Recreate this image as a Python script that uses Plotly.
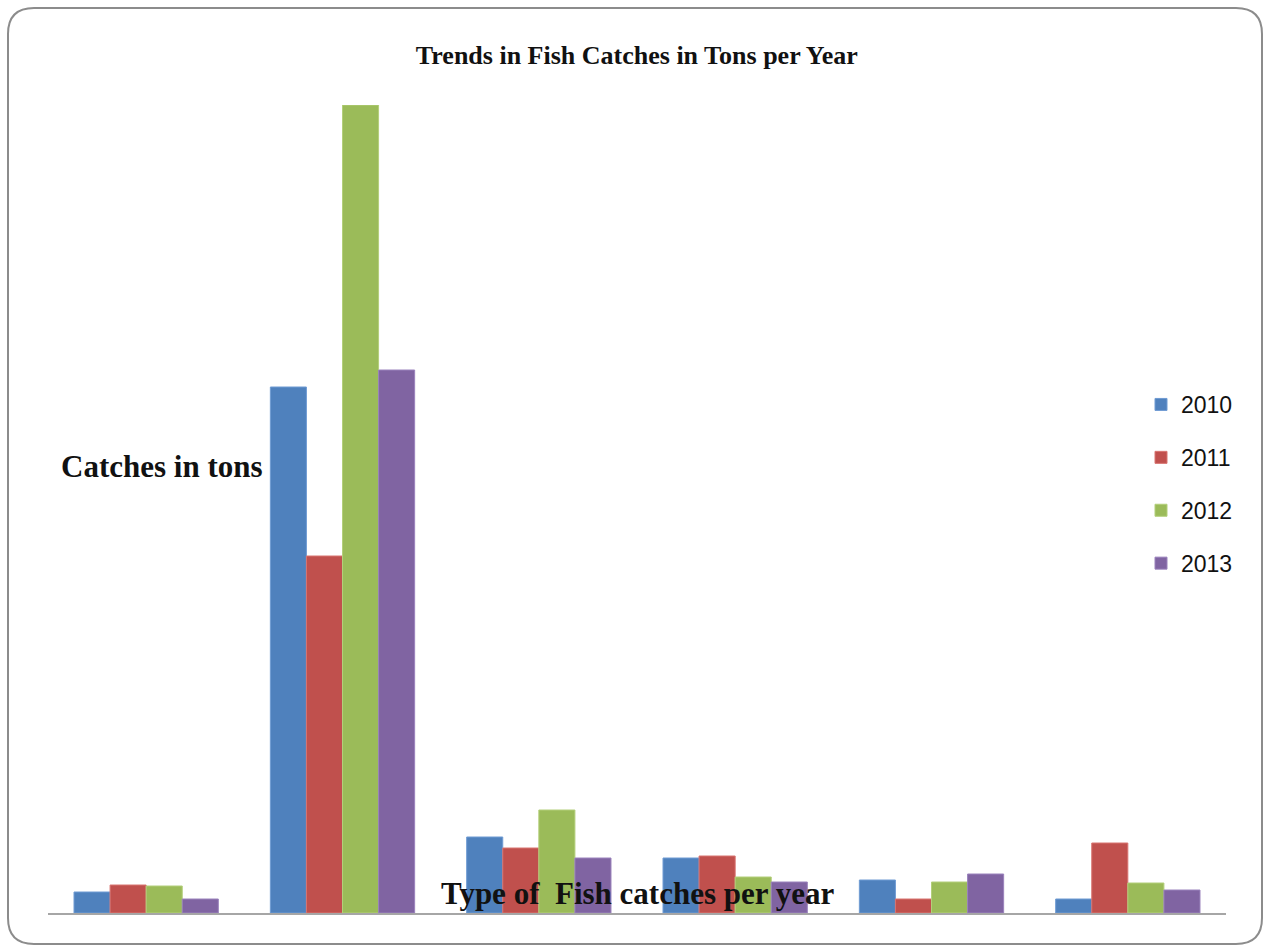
import plotly.graph_objects as go

# ---- data (arbitrary units = tons) ----
categories = ["Type 1", "Type 2", "Type 3", "Type 4", "Type 5", "Type 6"]
years = ["2010", "2011", "2012", "2013"]
catch_2010 = [21, 526, 76, 55, 33, 14]
catch_2011 = [28, 357, 65, 57, 14, 70]
catch_2012 = [27, 808, 103, 36, 31, 30]
catch_2013 = [14, 543, 55, 31, 39, 23]
series = [catch_2010, catch_2011, catch_2012, catch_2013]
colors = ["#4F81BD", "#C0504D", "#9BBB59", "#8064A2"]
line_colors = ["#6F9BD3", "#D87471", "#B3CF7A", "#9A82BC"]

W, H = 1266, 949
ML, MR, MT, MB = 48, 40, 105, 36

fig = go.Figure()
for yr, vals, c, lc in zip(years, series, colors, line_colors):
    fig.add_trace(go.Bar(
        x=categories, y=vals, name=yr, legendgroup=yr,
        marker=dict(color=c, line=dict(color=lc, width=1)),
    ))

# helper: pixel -> paper coordinates (for decorative frame / text placement)
pw, ph = W - ML - MR, H - MT - MB
def px(x):
    return (x - ML) / pw
def py(y):
    return (H - MB - y) / ph

x0, x1, y0, y1, r = 8, 1262, 8, 944, 26
path = (
    f"M {px(x0 + r)},{py(y0)} L {px(x1 - r)},{py(y0)} "
    f"Q {px(x1)},{py(y0)} {px(x1)},{py(y0 + r)} "
    f"L {px(x1)},{py(y1 - r)} Q {px(x1)},{py(y1)} {px(x1 - r)},{py(y1)} "
    f"L {px(x0 + r)},{py(y1)} Q {px(x0)},{py(y1)} {px(x0)},{py(y1 - r)} "
    f"L {px(x0)},{py(y0 + r)} Q {px(x0)},{py(y0)} {px(x0 + r)},{py(y0)} Z"
)

fig.update_layout(
    width=W, height=H,
    margin=dict(l=ML, r=MR, t=MT, b=MB),
    paper_bgcolor="white", plot_bgcolor="white",
    barmode="group", bargap=0.265, bargroupgap=0.0,
    title=dict(
        text="<b>Trends in Fish Catches in Tons per Year</b>",
        x=0.503, xanchor="center", y=1 - 55 / H, yanchor="middle",
        font=dict(family="Liberation Serif", size=26, color="#111"),
    ),
    xaxis=dict(
        showticklabels=False, ticks="", showgrid=False, zeroline=False,
        showline=True, linecolor="#A6A6A6", linewidth=2,
    ),
    yaxis=dict(
        range=[0, 808], showticklabels=False, ticks="", showgrid=False,
        zeroline=False, showline=False,
    ),
    legend=dict(
        x=px(1141), xanchor="left", y=py(383), yanchor="top",
        font=dict(family="Liberation Sans", size=23, color="#111"),
        tracegroupgap=20, bgcolor="rgba(0,0,0,0)", itemwidth=30,
    ),
    showlegend=True,
    shapes=[dict(
        type="path", xref="paper", yref="paper", path=path,
        line=dict(color="#8C8C8C", width=2), fillcolor="rgba(0,0,0,0)",
        layer="below",
    )],
    annotations=[
        dict(text="<b>Catches in tons</b>", xref="paper", yref="paper",
             x=px(59), y=py(467), xanchor="left", yanchor="middle",
             showarrow=False,
             font=dict(family="Liberation Serif", size=31, color="#111")),
        dict(text="<b>Type of  Fish catches per year</b>", xref="paper", yref="paper",
             x=px(637), y=py(893), xanchor="center", yanchor="middle",
             showarrow=False,
             font=dict(family="Liberation Serif", size=31, color="#111")),
    ],
)

fig.write_html("out.html")
